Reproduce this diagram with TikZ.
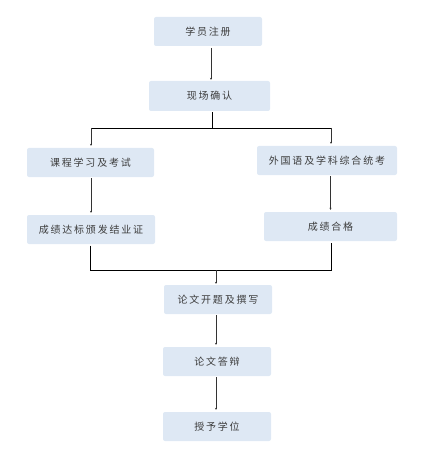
\documentclass[tikz,border=0pt]{standalone}
\usepackage{fontspec}
\newfontfamily\cjk[LetterSpace=18]{Noto Sans CJK SC}
\usetikzlibrary{arrows.meta}
\definecolor{boxfill}{RGB}{222,232,244}
\definecolor{txtgray}{RGB}{60,60,60}
\tikzset{
  stepbox/.style={fill=boxfill, rounded corners=2pt, inner sep=0pt, text=txtgray, font=\cjk\fontsize{10}{12}\selectfont},
  flow/.style={draw=black!80, line width=0.5pt, -{Stealth[length=2pt,width=2pt]}},
  link/.style={draw=black, line width=0.6pt}
}
\begin{document}
\begin{tikzpicture}[x=1pt,y=1pt,yscale=-1]
\useasboundingbox (0,0) rectangle (428,449);

% boxes
\node (reg)  [stepbox, minimum width=108, minimum height=29] at (208,31.5) {学员注册};
\node (conf) [stepbox, minimum width=121, minimum height=30] at (209.5,96) {现场确认};
\node (course) [stepbox, minimum width=127, minimum height=29] at (90.5,162.5) {课程学习及考试};
\node (exam) [stepbox, minimum width=140, minimum height=29] at (327,160.5) {外国语及学科综合统考};
\node (cert) [stepbox, minimum width=128, minimum height=29] at (91,229.5) {成绩达标颁发结业证};
\node (pass) [stepbox, minimum width=133, minimum height=29] at (330.5,226.5) {成绩合格};
\node (thesis) [stepbox, minimum width=108, minimum height=29] at (218,299.5) {论文开题及撰写};
\node (defense) [stepbox, minimum width=108, minimum height=29] at (217,361.5) {论文答辩};
\node (degree) [stepbox, minimum width=108, minimum height=29] at (217,426.5) {授予学位};

% junctions
\coordinate (top) at (211,48);
\coordinate (split) at (212,128);
\coordinate (splitL) at (91,128);
\coordinate (splitR) at (331,128);
\coordinate (joinL) at (90,270);
\coordinate (joinR) at (331,270);
\coordinate (join) at (216,270);

% connectors
\draw [flow] (top) -- ([yshift=-1pt]conf.north -| top);
\draw [link] ([yshift=1pt]conf.south -| split) -- (split);
\draw [link] (splitL) -- (splitR);
\draw [flow] (splitL) -- ([yshift=-2pt]course.north -| splitL);
\draw [flow] (splitR) -- ([yshift=-2pt]exam.north -| splitR);
\draw [flow] ([yshift=1pt]course.south -| splitL) -- ([yshift=-2pt]cert.north -| splitL);
\draw [flow] ([yshift=1pt]exam.south -| pass) -- ([yshift=-2pt]pass.north);
\draw [link] ([yshift=1.5pt]cert.south -| joinL) -- (joinL) -- (joinR) -- ([yshift=1.5pt]pass.south -| joinR);
\draw [flow] (join) -- ([yshift=-1pt]thesis.north -| join);
\draw [flow] ([yshift=1pt]thesis.south -| join) -- ([yshift=-2pt]defense.north -| join);
\draw [flow] ([yshift=1pt]defense.south -| join) -- ([yshift=-2pt]degree.north -| join);

\end{tikzpicture}
\end{document}
